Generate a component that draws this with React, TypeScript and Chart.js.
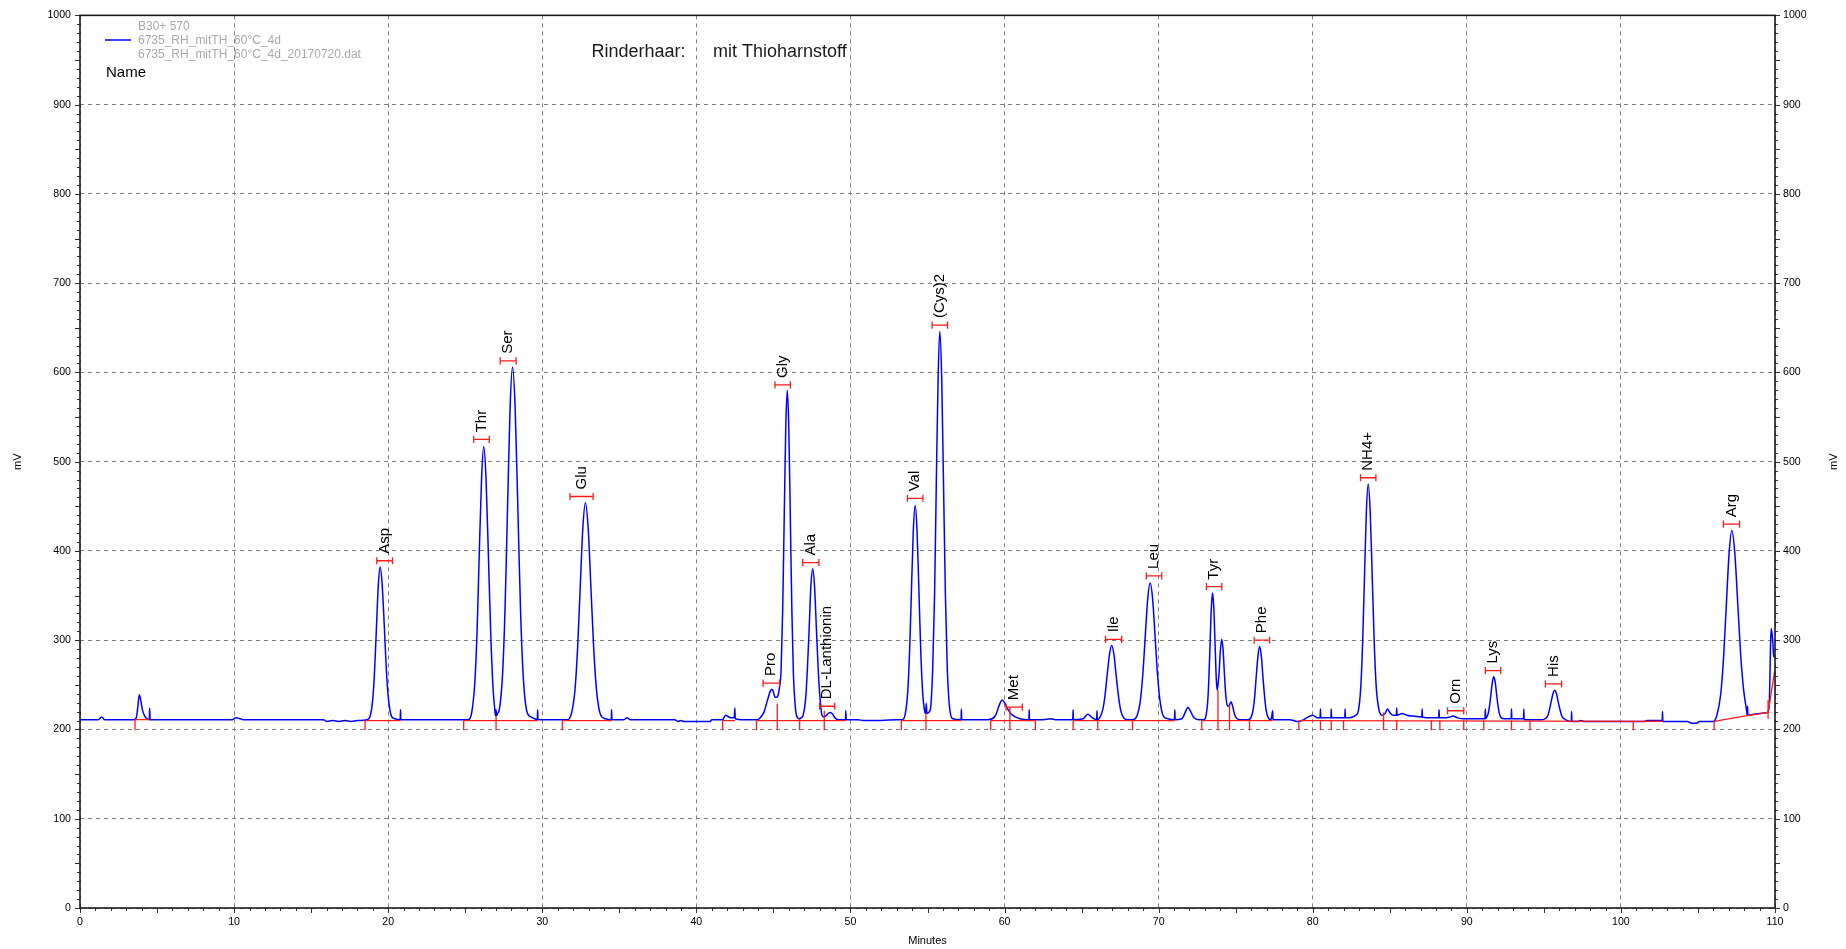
import { useEffect, useRef } from 'react';
import { Chart, registerables } from 'chart.js';

Chart.register(...registerables);

// ---- tick labels / axis ----
const xTickStep = 10;
const yTickStep = 100;
const xRange = [0, 110];
const yRange = [0, 1000];

// ---- detector trace: [minutes, mV] ----
const tracePoints: [number, number][] = [
  [0, 211], [1.2, 211], [1.4, 214], [1.6, 211], [3.5, 211], [3.65, 213], [3.75, 225], [3.85, 239], [3.95, 232],
  [4.05, 222], [4.2, 215], [4.35, 212], [4.5, 211], [4.52, 224], [4.55, 211], [9.9, 211], [10.1, 213], [10.4, 212],
  [10.6, 211], [15.8, 211], [16.0, 209], [16.4, 210], [16.8, 209], [17.2, 210], [17.6, 209], [18.0, 210],
  [18.64, 211], [18.83, 215], [19.0, 234], [19.12, 267], [19.24, 315], [19.36, 362], [19.48, 382], [19.61, 362],
  [19.75, 315], [19.88, 267], [20.02, 234], [20.21, 215], [20.43, 212], [20.78, 211], [20.8, 222], [20.82, 211],
  [25.2, 211], [25.42, 219], [25.62, 252], [25.77, 310], [25.91, 397], [26.06, 481], [26.2, 517], [26.35, 481],
  [26.5, 397], [26.65, 310], [26.8, 248], [26.9, 226], [26.97, 215], [27.0, 222], [27.03, 215], [27.1, 218],
  [27.21, 222], [27.43, 264], [27.59, 339], [27.75, 451], [27.91, 560], [28.07, 606], [28.24, 560], [28.41, 451],
  [28.58, 339], [28.75, 264], [28.99, 221], [29.27, 214], [29.5, 212], [29.68, 211], [29.7, 222], [29.72, 211],
  [31.61, 211], [31.88, 217], [32.12, 244], [32.29, 290], [32.46, 358], [32.63, 425], [32.8, 454], [32.98, 425],
  [33.16, 358], [33.34, 290], [33.52, 244], [33.77, 217], [34.1, 212], [34.48, 211], [34.5, 222], [34.52, 211],
  [35.3, 211], [35.5, 213], [35.7, 211], [38.6, 211], [38.8, 209], [39.0, 210], [39.2, 209], [40.9, 209],
  [41.0, 211], [41.7, 211], [41.9, 216], [42.1, 214], [42.45, 213], [42.5, 224], [42.52, 212], [43.0, 211],
  [43.95, 211], [44.15, 213], [44.4, 220], [44.6, 232], [44.8, 243], [44.9, 245], [45.0, 242], [45.1, 236],
  [45.2, 236], [45.3, 238], [45.4, 248], [45.5, 267], [45.6, 333], [45.7, 436], [45.8, 537], [45.9, 580],
  [46.0, 537], [46.1, 435], [46.2, 331], [46.3, 261], [46.44, 222], [46.58, 213], [46.68, 212], [46.8, 213],
  [46.93, 216], [47.09, 234], [47.2, 266], [47.32, 313], [47.43, 360], [47.55, 380], [47.67, 360], [47.79, 313],
  [47.91, 266], [48.03, 234], [48.15, 216], [48.3, 214], [48.5, 217], [48.7, 219], [48.85, 217], [49.0, 213],
  [49.2, 211], [49.68, 211], [49.7, 221], [49.72, 211], [50.5, 211], [50.8, 210], [52.0, 210], [53.0, 211],
  [53.36, 211], [53.55, 217], [53.72, 243], [53.84, 289], [53.96, 357], [54.08, 423], [54.2, 451], [54.32, 423],
  [54.44, 357], [54.56, 289], [54.68, 243], [54.8, 222], [54.88, 218], [54.92, 229], [54.96, 218], [55.18, 222],
  [55.34, 270], [55.46, 352], [55.57, 475], [55.69, 595], [55.8, 646], [55.92, 595], [56.04, 475], [56.16, 352],
  [56.28, 270], [56.45, 222], [56.65, 212], [57.18, 211], [57.2, 223], [57.22, 211], [58.9, 211], [59.2, 212],
  [59.45, 217], [59.65, 227], [59.85, 233], [60.0, 230], [60.2, 223], [60.4, 218], [60.7, 214], [61.0, 212],
  [61.58, 211], [61.6, 222], [61.62, 211], [62.5, 211], [63.0, 212], [63.3, 211], [64.43, 211], [64.45, 222],
  [64.47, 211], [65.1, 212], [65.4, 217], [65.7, 213], [65.98, 211], [66.0, 221], [66.02, 211], [66.17, 213],
  [66.37, 222], [66.52, 238], [66.66, 261], [66.81, 284], [66.95, 294], [67.1, 284], [67.24, 261], [67.39, 238],
  [67.53, 222], [67.73, 213], [67.95, 211], [68.33, 211], [68.59, 215], [68.81, 232], [68.97, 261], [69.13, 304],
  [69.29, 346], [69.45, 364], [69.61, 346], [69.77, 304], [69.93, 261], [70.09, 232], [70.31, 215], [70.6, 212],
  [71.03, 211], [71.05, 222], [71.07, 211], [71.5, 212], [71.75, 220], [71.9, 225], [72.05, 221], [72.3, 213],
  [72.6, 211], [72.94, 211], [73.07, 215], [73.18, 230], [73.26, 257], [73.34, 297], [73.42, 336], [73.5, 353],
  [73.58, 336], [73.66, 297], [73.74, 257], [73.8, 244], [73.85, 250], [73.93, 265], [74.0, 287], [74.1, 301],
  [74.18, 290], [74.26, 265], [74.35, 240], [74.45, 227], [74.55, 226], [74.7, 231], [74.8, 226], [74.95, 216],
  [75.1, 212], [75.3, 211], [75.81, 211], [75.98, 213], [76.13, 222], [76.24, 238], [76.34, 261], [76.45, 283],
  [76.55, 293], [76.66, 283], [76.76, 261], [76.87, 238], [76.97, 222], [77.12, 213], [77.3, 211], [77.4, 221],
  [77.42, 211], [78.5, 211], [79.0, 209], [79.3, 210], [79.6, 213], [80.0, 216], [80.3, 213], [80.48, 213],
  [80.5, 223], [80.52, 213], [81.18, 213], [81.2, 223], [81.22, 213], [82.08, 213], [82.1, 223], [82.12, 213],
  [82.6, 214], [82.8, 216], [82.95, 220], [83.12, 248], [83.24, 298], [83.36, 372], [83.48, 444], [83.6, 475],
  [83.73, 444], [83.86, 372], [83.99, 298], [84.12, 248], [84.3, 222], [84.5, 216], [84.7, 218], [84.85, 223],
  [85.0, 219], [85.2, 216], [85.43, 216], [85.45, 224], [85.47, 216], [85.8, 218], [86.1, 216], [86.5, 215],
  [87.08, 214], [87.1, 223], [87.12, 214], [87.6, 213], [88.18, 213], [88.2, 222], [88.22, 213], [88.6, 213],
  [88.9, 214], [89.1, 215], [89.4, 213], [89.8, 212], [91.18, 212], [91.2, 223], [91.22, 212], [91.26, 213],
  [91.39, 218], [91.48, 227], [91.57, 240], [91.66, 253], [91.75, 259], [91.84, 253], [91.93, 240], [92.02, 227],
  [92.11, 218], [92.24, 213], [92.45, 212], [92.88, 212], [92.9, 223], [92.92, 212], [93.68, 212], [93.7, 223],
  [93.72, 211], [94.5, 211], [94.9, 211], [95.08, 212], [95.24, 215], [95.36, 222], [95.47, 231], [95.59, 240],
  [95.7, 244], [95.82, 240], [95.93, 231], [96.05, 222], [96.16, 215], [96.32, 212], [96.5, 210], [96.78, 209],
  [96.8, 220], [96.82, 209], [97.2, 209], [97.4, 210], [97.6, 209], [101.5, 209], [101.7, 210], [102.68, 210],
  [102.7, 220], [102.72, 209], [104.3, 209], [104.6, 207], [104.9, 207], [105.1, 209], [106.0, 209], [106.23, 216],
  [106.48, 240], [106.66, 280], [106.84, 339], [107.02, 397], [107.2, 423], [107.39, 398], [107.58, 342],
  [107.77, 284], [107.96, 245], [108.15, 222], [108.2, 216], [108.22, 226], [108.24, 216], [108.6, 217],
  [109.0, 218], [109.5, 219], [109.62, 226], [109.72, 300], [109.76, 313], [109.85, 300], [109.92, 282], [110.0, 281],
];

// ---- integration baseline segments (red) ----
const baselineSegments: [number, number][][] = [
  [[3.57, 211], [4.5, 211]],
  [[18.5, 210], [20.8, 210]],
  [[24.9, 210], [29.7, 210]],
  [[31.3, 210], [34.5, 210]],
  [[41.7, 210], [42.5, 210]],
  [[43.9, 210], [49.7, 210]],
  [[53.3, 210], [57.2, 210]],
  [[59.1, 210], [62.0, 210]],
  [[64.45, 210], [71.05, 210]],
  [[72.8, 210], [77.4, 210]],
  [[79.1, 210], [102.7, 209]],
  [[106.05, 209], [108.2, 215.5], [109.55, 219], [110, 268]],
];

// ---- peak boundary drop lines (red) ----
const dropMinutes = [3.57, 18.5, 24.9, 27.0, 31.3, 41.7, 43.9, 45.25, 46.7, 48.3, 53.3, 54.9, 59.1, 60.35, 62.0,
  64.45, 66.05, 68.3, 72.8, 73.85, 74.6, 75.9, 79.1, 80.5, 81.2, 82.0, 84.6, 85.45, 87.7, 88.25, 89.8, 91.1,
  92.9, 94.1, 100.8, 106.05, 109.55];
const dropTopMv = [211, 210, 210, 214, 210, 210, 210, 229, 212, 221, 210, 218, 210, 225, 210,
  210, 210, 210, 210, 244, 227, 210, 210, 210, 210, 210, 219, 210, 210, 210, 210, 210,
  210, 210, 209, 209, 233];
const dropBottomMv = [199, 199, 199, 199, 199, 199, 199, 199, 199, 199, 199, 199, 199, 199, 199,
  199, 199, 199, 199, 199, 199, 199, 199, 199, 199, 199, 199, 199, 199, 199, 199, 199,
  199, 199, 199, 199, 212];

// ---- peak identification markers ----
const peakNames = ['Asp', 'Thr', 'Ser', 'Glu', 'Pro', 'Gly', 'Ala', 'DL-Lanthionin', 'Val', '(Cys)2', 'Met',
  'Ile', 'Leu', 'Tyr', 'Phe', 'NH4+', 'Orn', 'Lys', 'His', 'Arg'];
const markerStart = [19.26, 25.55, 27.27, 31.8, 44.33, 45.1, 46.9, 48.0, 53.7, 55.3, 60.1,
  66.55, 69.2, 73.1, 76.2, 83.1, 88.75, 91.2, 95.1, 106.65];
const markerEnd = [20.28, 26.56, 28.3, 33.3, 45.4, 46.1, 47.95, 48.98, 54.7, 56.3, 61.15,
  67.6, 70.2, 74.1, 77.2, 84.1, 89.8, 92.2, 96.15, 107.7];
const markerMv = [389, 525, 613, 461, 252, 586, 387, 226, 459, 653, 225,
  301, 372, 360, 300, 482, 221, 266, 251, 430];

// ---- texts ----
const titleLeft = 'Rinderhaar:';
const titleRight = 'mit Thioharnstoff';
const legendLines = ['B30+ 570', '6735_RH_mitTH_60°C_4d', '6735_RH_mitTH_60°C_4d_20170720.dat'];
const legendName = 'Name';
const xTitle = 'Minutes';
const yTitle = 'mV';

const FONT = '"Liberation Sans", Arial, sans-serif';

const overlay = {
  id: 'overlay',
  beforeDraw(chart: any) {
    const ctx = chart.ctx;
    ctx.save();
    ctx.fillStyle = '#ffffff';
    ctx.fillRect(0, 0, chart.width, chart.height);
    // legend
    ctx.strokeStyle = '#0000ff';
    ctx.lineWidth = 1.5;
    ctx.beginPath();
    ctx.moveTo(105, 40);
    ctx.lineTo(131, 40);
    ctx.stroke();
    ctx.fillStyle = '#a9a9a9';
    ctx.font = `12px ${FONT}`;
    ctx.textBaseline = 'alphabetic';
    ctx.textAlign = 'left';
    ctx.fillText(legendLines[0], 138, 29.5);
    ctx.fillText(legendLines[1], 138, 44.3);
    ctx.fillText(legendLines[2], 138, 58.3);
    ctx.fillStyle = '#000';
    ctx.font = `15px ${FONT}`;
    ctx.fillText(legendName, 106, 76.5);
    ctx.fillStyle = '#1a1a1a';
    ctx.font = `18px ${FONT}`;
    ctx.fillText(titleLeft, 591.5, 56.5);
    ctx.fillText(titleRight, 713, 56.5);
    ctx.restore();
  },
  afterDraw(chart: any) {
    const ctx = chart.ctx;
    const xs = chart.scales.x;
    const ys = chart.scales.y;
    const { left, right, top, bottom } = chart.chartArea;
    ctx.save();
    // minor ticks
    ctx.strokeStyle = '#333';
    ctx.lineWidth = 1;
    ctx.beginPath();
    for (let v = yRange[0]; v <= yRange[1]; v += 10) {
      const py = Math.round(ys.getPixelForValue(v)) + 0.5;
      const len = v % 50 === 0 ? 5 : 3;
      ctx.moveTo(left - len, py);
      ctx.lineTo(left, py);
      ctx.moveTo(right, py);
      ctx.lineTo(right + len, py);
    }
    for (let t = xRange[0]; t <= xRange[1]; t += 1) {
      const px = Math.round(xs.getPixelForValue(t)) + 0.5;
      const len = t % 5 === 0 ? 5 : 3;
      ctx.moveTo(px, bottom);
      ctx.lineTo(px, bottom + len);
    }
    ctx.stroke();
    // frame
    ctx.strokeStyle = '#1a1a1a';
    ctx.lineWidth = 1.6;
    ctx.strokeRect(left, top, right - left, bottom - top);
    // peak labels
    ctx.fillStyle = '#000';
    ctx.font = `15px ${FONT}`;
    ctx.textAlign = 'left';
    ctx.textBaseline = 'middle';
    peakNames.forEach((name, i) => {
      const cx = xs.getPixelForValue((markerStart[i] + markerEnd[i]) / 2);
      const cy = ys.getPixelForValue(markerMv[i]) - 7;
      ctx.save();
      ctx.translate(cx, cy);
      ctx.rotate(-Math.PI / 2);
      ctx.fillText(name, 0, 0);
      ctx.restore();
    });
    // axis titles
    ctx.font = `11px ${FONT}`;
    ctx.textAlign = 'center';
    ctx.fillText(xTitle, (left + right) / 2, 941);
    const midY = (top + bottom) / 2;
    [17.5, 1834].forEach((px) => {
      ctx.save();
      ctx.translate(px, midY);
      ctx.rotate(-Math.PI / 2);
      ctx.fillText(yTitle, 0, 0);
      ctx.restore();
    });
    ctx.restore();
  },
};

export default function App() {
  const ref = useRef<HTMLCanvasElement | null>(null);
  useEffect(() => {
    document.body.style.margin = '0';
    const traceData = tracePoints.map(([x, y]) => ({ x, y }));
    const baselineData: { x: number; y: number | null }[] = [];
    baselineSegments.forEach((seg) => {
      seg.forEach(([x, y]) => baselineData.push({ x, y }));
      baselineData.push({ x: seg[seg.length - 1][0], y: null });
    });
    const dropData: { x: number; y: number | null }[] = [];
    dropMinutes.forEach((t, i) => {
      dropData.push({ x: t, y: dropBottomMv[i] }, { x: t, y: dropTopMv[i] }, { x: t, y: null });
    });
    const markerData: { x: number; y: number | null }[] = [];
    markerStart.forEach((s, i) => {
      const e = markerEnd[i];
      const m = markerMv[i];
      markerData.push(
        { x: s, y: m }, { x: e, y: m }, { x: e, y: null },
        { x: s, y: m - 4 }, { x: s, y: m + 4 }, { x: s, y: null },
        { x: e, y: m - 4 }, { x: e, y: m + 4 }, { x: e, y: null },
      );
    });
    const red = '#ff1a1a';
    const tickFont = { size: 10.6, family: FONT };
    const plain = (v: any) => String(v);
    const chart = new Chart(ref.current!, {
      type: 'line',
      data: {
        datasets: [
          { data: markerData as any, borderColor: red, borderWidth: 1.3, tension: 0, spanGaps: false },
          { data: dropData as any, borderColor: red, borderWidth: 1.3, tension: 0, spanGaps: false },
          { data: baselineData as any, borderColor: red, borderWidth: 1.3, tension: 0, spanGaps: false },
          { data: traceData as any, borderColor: '#0000ff', borderWidth: 1.5, cubicInterpolationMode: 'monotone' },
        ],
      },
      options: {
        animation: false,
        responsive: false,
        devicePixelRatio: 1,
        events: [],
        layout: { padding: { top: 15, left: 0, right: 0, bottom: 0 } },
        elements: { point: { radius: 0 }, line: { borderJoinStyle: 'round' } },
        plugins: { legend: { display: false }, tooltip: { enabled: false }, title: { display: false } },
        scales: {
          x: {
            type: 'linear',
            position: 'bottom',
            min: xRange[0],
            max: xRange[1],
            afterFit: (s: any) => { s.height = 41; },
            ticks: { stepSize: xTickStep, color: '#000', font: tickFont, padding: 8, maxRotation: 0, autoSkip: false, callback: plain },
            grid: { color: '#808080', lineWidth: 1, drawTicks: false },
            border: { display: false, dash: [4, 4] },
          },
          y: {
            type: 'linear',
            position: 'left',
            min: yRange[0],
            max: yRange[1],
            afterFit: (s: any) => { s.width = 80; },
            ticks: { stepSize: yTickStep, color: '#000', font: tickFont, padding: 9, callback: plain },
            grid: { color: '#808080', lineWidth: 1, drawTicks: false },
            border: { display: false, dash: [4, 4] },
          },
          y2: {
            type: 'linear',
            position: 'right',
            min: yRange[0],
            max: yRange[1],
            afterFit: (s: any) => { s.width = 71; },
            ticks: { stepSize: yTickStep, color: '#000', font: tickFont, padding: 8, callback: plain },
            grid: { drawOnChartArea: false, drawTicks: false },
            border: { display: false },
          },
        },
      },
      plugins: [overlay],
    } as any);
    return () => chart.destroy();
  }, []);
  return (
    <div style={{ width: 1846, height: 949, position: 'relative' }}>
      <canvas ref={ref} width={1846} height={949} style={{ display: 'block' }} />
    </div>
  );
}
